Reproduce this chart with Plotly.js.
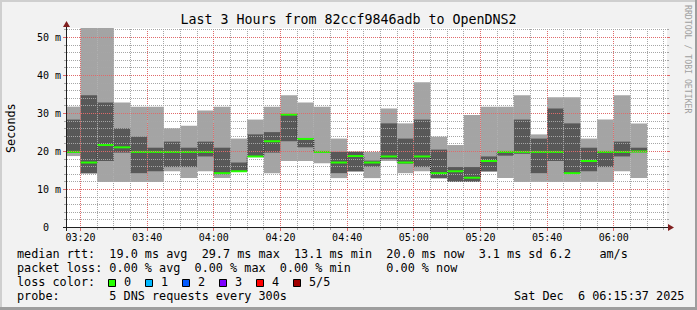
<!DOCTYPE html>
<html><head><meta charset="utf-8">
<script src="https://cdn.plot.ly/plotly-3.0.1.min.js"></script>
<style>html,body{margin:0;padding:0;background:#f2f2f2;overflow:hidden}#chart{width:697px;height:310px}</style>
</head><body><div id="chart"></div>
<script>
// ---- data (5 pings per 300 s step, sorted: min, 2nd, median, 4th, max) in ms ----
const times = ["03:15","03:20","03:25","03:30","03:35","03:40","03:45","03:50","03:55",
  "04:00","04:05","04:10","04:15","04:20","04:25","04:30","04:35","04:40","04:45","04:50","04:55",
  "05:00","05:05","05:10","05:15","05:20","05:25","05:30","05:35","05:40","05:45","05:50","05:55",
  "06:00","06:05"];
const rttMin    = [18.8,14.2,12.0,12.0,12.0,12.0,14.8,13.0,14.8,13.0,14.6,18.5,14.3,17.5,17.5,16.9,13.0,14.7,13.0,17.5,14.3,14.8,12.9,12.0,12.0,14.7,13.0,12.0,12.0,12.0,12.0,12.0,12.0,14.8,13.0];
const rttLow    = [19.6,14.3,17.5,19.7,14.3,14.8,15.9,15.9,18.7,14.0,14.7,18.6,19.7,22.7,21.1,19.7,14.3,14.8,16.0,18.0,16.8,15.9,13.0,12.0,12.0,14.8,18.9,19.4,14.3,17.5,14.2,14.8,15.9,18.7,19.8];
const rttMedian = [19.9,17.1,21.7,21.1,19.9,19.9,19.9,19.9,19.9,14.3,14.8,18.7,22.7,29.7,23.3,19.9,17.1,18.8,17.1,18.7,17.1,18.7,14.3,14.8,13.1,17.5,19.9,19.9,19.9,19.9,14.3,17.5,19.9,19.9,20.0];
const rttHigh   = [28.4,34.8,32.9,26.1,23.9,21.0,22.6,21.0,22.6,21.0,17.1,24.5,25.1,29.8,23.4,20.1,19.9,19.9,17.6,27.4,23.4,28.4,20.5,15.9,15.9,18.7,20.0,28.4,23.4,31.3,27.4,21.0,20.0,22.6,21.0];
const rttMax    = [31.8,52.6,52.6,32.9,31.8,31.8,26.1,26.8,30.8,31.8,23.4,28.4,31.8,34.8,32.9,31.8,23.4,20.0,19.9,31.3,27.4,38.2,23.9,21.7,29.6,31.8,31.8,34.8,24.5,34.3,34.3,23.4,28.4,34.8,27.4];
const yTickVals = [0,10,20,30,40,50];
const yTickText = ["0  ","10 m","20 m","30 m","40 m","50 m"];
const lossLabels = ["0","1","2","3","4","5/5"];
const lossColors = ["#26ff00","#00b8ff","#0059ff","#7e00ff","#ff0000","#a10000"];
const titleText = "Last 3 Hours from 82ccf9846adb to OpenDNS2";
const legendLines = [
  "median rtt:  19.0 ms avg  29.7 ms max  13.1 ms min  20.0 ms now  3.1 ms sd 6.2    am/s",
  "packet loss: 0.00 % avg  0.00 % max  0.00 % min     0.00 % now",
  "loss color:",
  "probe:       5 DNS requests every 300s"
];
const dateText = "Sat Dec  6 06:15:37 2025";
const creditText = "RRDTOOL / TOBI OETIKER";

// ---- helpers ----
const DAY = "2025-12-06 ";
const STEP_MS = 300000;
const MONO = "DejaVu Sans Mono";
const W = 697, H = 310, ML = 67, MT = 28, PW = 600, PH = 200, PX_PER_MS = 3.8;
const nb = s => s.replace(/ /g, "\u00a0");
const toMin = s => { const [h, m] = s.split(":").map(Number); return h * 60 + m; };
const fmt = min => { const totalMs = Math.round(min * 60000);
  const h = Math.floor(totalMs / 3600000), m = Math.floor((totalMs % 3600000) / 60000), ms = totalMs % 60000;
  const p = (n, l) => String(n).padStart(l || 2, "0");
  return DAY + p(h) + ":" + p(m) + ":" + p(Math.floor(ms / 1000)) + "." + p(ms % 1000, 3); };
const px2x = px => (px - ML) / PW;
const py2y = py => (MT + PH - py) / PH;
const X_START = toMin("03:15") + 57 / 60, X_SPAN = 180;
const X_RANGE = [fmt(X_START), fmt(X_START + X_SPAN)];
const Y_RANGE = [-0.5 / PX_PER_MS, 199.5 / PX_PER_MS];

const starts = times.map(t => fmt(toMin(t)));
const lastEnd = fmt(toMin(times[times.length - 1]) + 5);

const traces = [
  { type: "bar", x: starts, base: rttMin, y: rttMax.map((v, i) => v - rttMin[i]), width: STEP_MS, offset: 0,
    marker: { color: "#a4a4a4", line: { width: 0 } }, hoverinfo: "skip" },
  { type: "bar", x: starts, base: rttLow, y: rttHigh.map((v, i) => v - rttLow[i]), width: STEP_MS, offset: 0,
    marker: { color: "#585858", line: { width: 0 } }, hoverinfo: "skip" },
  { type: "scatter", mode: "lines", x: starts.concat([lastEnd]), y: rttMedian.concat([rttMedian[rttMedian.length - 1]]),
    line: { shape: "hv", color: "#202020", width: 1, dash: "1px,1px" }, hoverinfo: "skip" }
];
const gx = [], gy = [];
times.forEach((t, i) => { gx.push(fmt(toMin(t)), fmt(toMin(t) + 5), null); gy.push(rttMedian[i], rttMedian[i], null); });
traces.push({ type: "scatter", mode: "lines", x: gx, y: gy, connectgaps: false,
  line: { color: lossColors[0], width: 2 }, hoverinfo: "skip" });

// ---- grid (drawn on top of the smoke, as rrdtool does), snapped to pixel centres ----
const shapes = [];
const GRID = "#a6a6a6", MGRID = "#df6a6a", DOT = "1px,1px";
for (let m = toMin("03:20"); m <= toMin("06:15"); m += 5) {
  const major = (m - toMin("03:20")) % 20 === 0;
  const rawPx = ML + (m - X_START) / X_SPAN * PW;
  const t = fmt(X_START + (Math.floor(rawPx) + 0.5 - ML) / PW * X_SPAN);
  shapes.push({ type: "line", layer: "above", xref: "x", yref: "y", x0: t, x1: t, y0: Y_RANGE[0], y1: Y_RANGE[1],
    line: { color: major ? MGRID : GRID, width: 1, dash: DOT } });
  shapes.push({ type: "line", layer: "above", xref: "x", yref: "paper", x0: t, x1: t, y0: py2y(228), y1: py2y(major ? 231 : 230),
    line: { color: major ? MGRID : GRID, width: 1 } });
}
for (let v = 2; v <= 52; v += 2) {
  const major = v % 10 === 0;
  const rawPy = 227.5 - v * PX_PER_MS;
  const vs = (227.5 - (Math.floor(rawPy) + 0.5)) / PX_PER_MS;
  shapes.push({ type: "line", layer: "above", xref: "x", yref: "y", x0: X_RANGE[0], x1: X_RANGE[1], y0: vs, y1: vs,
    line: { color: major ? MGRID : GRID, width: 1, dash: DOT } });
  shapes.push({ type: "line", layer: "above", xref: "paper", yref: "y", x0: px2x(major ? 63 : 64), x1: px2x(67), y0: vs, y1: vs,
    line: { color: major ? MGRID : GRID, width: 1 } });
  shapes.push({ type: "line", layer: "above", xref: "paper", yref: "y", x0: px2x(667), x1: px2x(major ? 670 : 669), y0: vs, y1: vs,
    line: { color: major ? MGRID : GRID, width: 1 } });
}
// axes and arrows
shapes.push({ type: "line", layer: "above", xref: "paper", yref: "y", x0: px2x(63), x1: px2x(670), y0: 0, y1: 0,
  line: { color: "#1f1f1f", width: 1 } });
shapes.push({ type: "line", layer: "above", xref: "paper", yref: "paper", x0: px2x(66.5), x1: px2x(66.5), y0: py2y(231), y1: py2y(25),
  line: { color: "#1f1f1f", width: 1 } });
const P = (px, py) => px2x(px) + "," + py2y(py);
shapes.push({ type: "path", layer: "above", xref: "paper", yref: "paper",
  path: "M" + P(668, 224) + " L" + P(674, 227.5) + " L" + P(668, 231) + " Z", fillcolor: "#801f1f", line: { width: 0 } });
shapes.push({ type: "path", layer: "above", xref: "paper", yref: "paper",
  path: "M" + P(63, 27) + " L" + P(66.5, 21) + " L" + P(70, 27) + " Z", fillcolor: "#801f1f", line: { width: 0 } });
lossColors.forEach((c, i) => {
  const x0 = 108.5 + i * 37;
  shapes.push({ type: "rect", layer: "above", xref: "paper", yref: "paper", x0: px2x(x0), x1: px2x(x0 + 7),
    y0: py2y(286.5), y1: py2y(279.5), fillcolor: c, line: { color: "#000000", width: 1 } });
});
const rectPx = (x0, y0, x1, y1, c) => shapes.push({ type: "rect", layer: "above", xref: "paper", yref: "paper",
  x0: px2x(x0), x1: px2x(x1), y0: py2y(y1), y1: py2y(y0), fillcolor: c, line: { width: 0 } });
rectPx(0, 0, W, 2, "#cfcfcf");
rectPx(0, 0, 2, H, "#cfcfcf");
rectPx(W - 2, 0, W, H, "#9e9e9e");
rectPx(0, H - 3, W, H, "#9e9e9e");

// ---- texts ----
const ann = [];
const txt = (s, px, py, size, opts) => ann.push(Object.assign({ text: nb(s), xref: "paper", yref: "paper",
  x: px2x(px), y: py2y(py), xanchor: "left", yanchor: "middle", showarrow: false, borderpad: 0,
  font: { family: MONO, size: size, color: "#000000" } }, opts || {}));
const lineY = [254.3, 268.3, 282.3, 296.3];
legendLines.forEach((s, i) => txt(s, 15.5, lineY[i], 11.8));
lossLabels.forEach((s, i) => txt(s, 122.5 + i * 37, lineY[2], 11.8));
txt(dateText, 512.5, lineY[3], 11.8);
txt("Seconds", 11, 128, 11.8, { xanchor: "center", textangle: -90 });
txt(creditText, 688, 59, 8.2, { xanchor: "center", textangle: 90, font: { family: MONO, size: 8.2, color: "#a0a0a0" } });

const layout = {
  width: W, height: H,
  margin: { l: ML, r: W - ML - PW, t: MT, b: H - MT - PH, pad: 0 },
  paper_bgcolor: "#f2f2f2", plot_bgcolor: "#ffffff",
  showlegend: false, barmode: "overlay", hovermode: false,
  title: { text: titleText, font: { family: MONO, size: 13.3, color: "#000000" }, x: 0.5, xref: "container",
    y: (H - 19.5) / H, yanchor: "middle" },
  xaxis: { type: "date", range: X_RANGE,
    showgrid: false, zeroline: false, showline: false, ticks: "",
    tickmode: "linear", tick0: fmt(toMin("03:20")), dtick: 20 * 60 * 1000, tickformat: "%H:%M",
    ticklabelstandoff: 2, tickfont: { family: MONO, size: 10, color: "#000000" }, fixedrange: true },
  yaxis: { range: Y_RANGE, tickmode: "array", tickvals: yTickVals, ticktext: yTickText.map(nb),
    showgrid: false, zeroline: false, showline: false, ticks: "", ticklabelstandoff: 5,
    tickfont: { family: MONO, size: 10, color: "#000000" }, fixedrange: true },
  shapes: shapes, annotations: ann
};
Plotly.newPlot("chart", traces, layout, { staticPlot: true, displayModeBar: false });
</script></body></html>
